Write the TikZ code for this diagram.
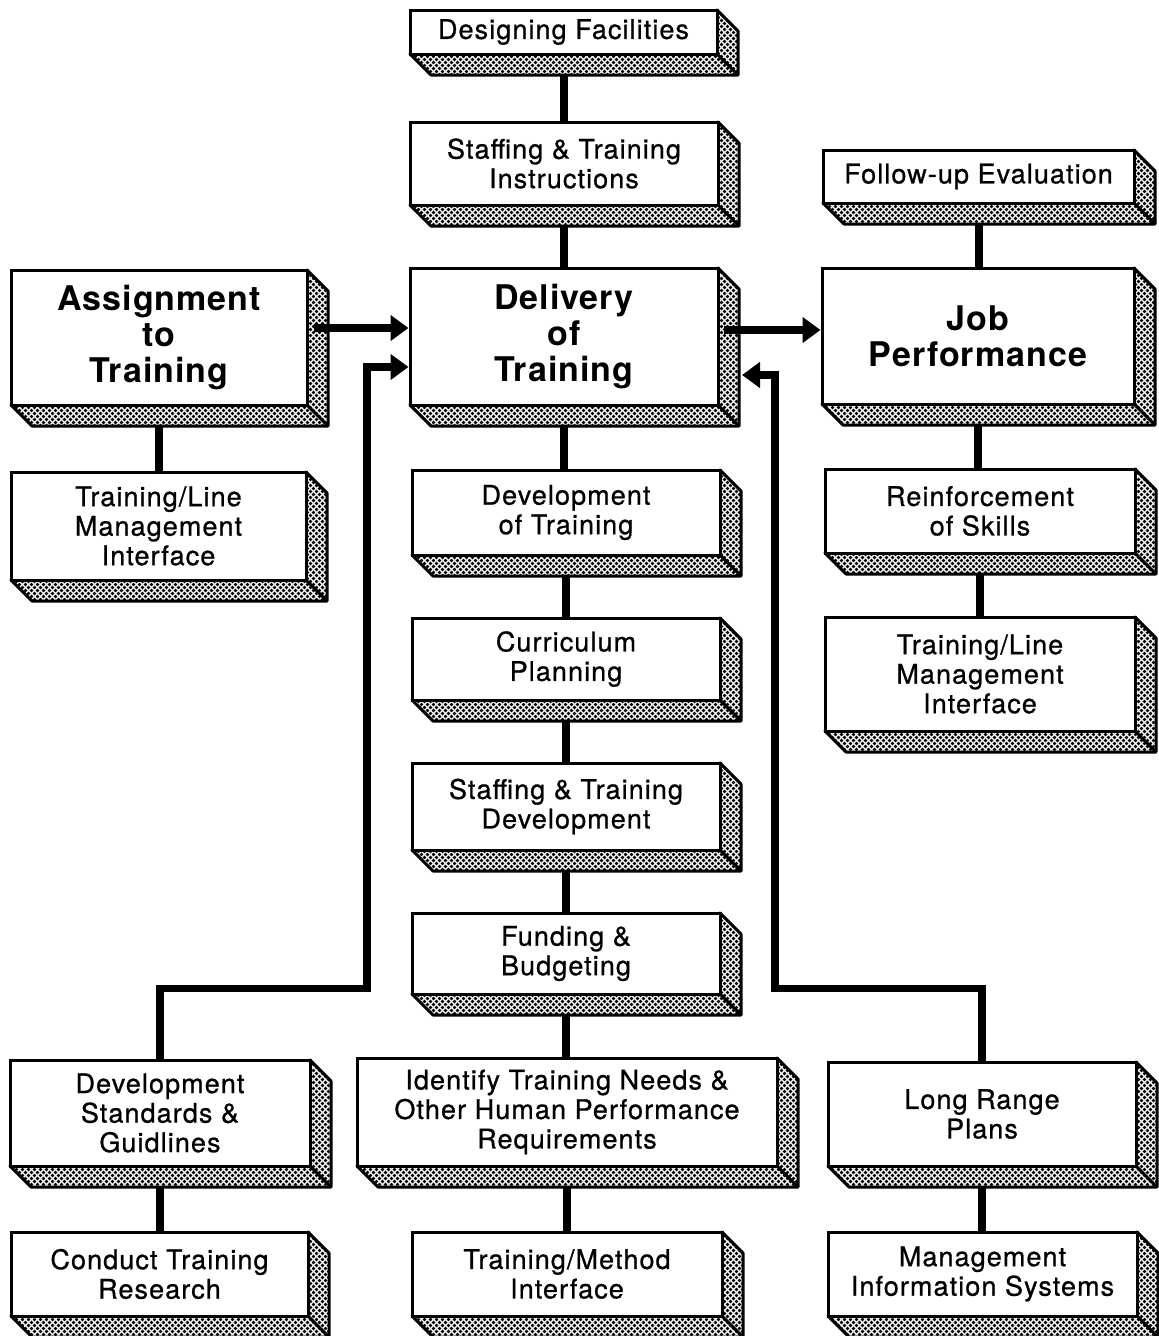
\documentclass[tikz,border=0pt]{standalone}
\usepackage{fontspec}
\setmainfont{TeX Gyre Heros}
\newfontfamily\boxfont[LetterSpace=4,FakeBold=0.8]{TeX Gyre Heros}
\newfontfamily\bigboxfont[LetterSpace=3]{TeX Gyre Heros}
\usetikzlibrary{arrows.meta,patterns}
\pgfdeclarelayer{bg}
\pgfsetlayers{bg,main}
% dotted screen used on the side faces of the slabs
\pgfdeclarepatternformonly{dotnet}{\pgfqpoint{-1pt}{-1pt}}{\pgfqpoint{7pt}{7pt}}{\pgfqpoint{6pt}{6pt}}{%
  \pgfpathcircle{\pgfqpoint{1.5pt}{1.5pt}}{1.8pt}%
  \pgfpathcircle{\pgfqpoint{4.5pt}{4.5pt}}{1.8pt}%
  \pgfusepath{fill}}
\tikzset{
  front/.style={draw, line width=3pt, fill=white, align=center, inner sep=0pt},
  small/.style={font=\boxfont\fontsize{27}{29.5}\selectfont},
  big/.style={font=\bigboxfont\bfseries\fontsize{34}{36}\selectfont},
  sides/.style={preaction={fill=white}, pattern=dotnet, draw, line width=3pt, line join=round},
  link/.style={line width=8pt},
  flow/.style={line width=7.5pt, line join=miter, -{Triangle[length=18pt,width=25pt]}},
}
% #1 name, #2 x1, #3 y1, #4 x2, #5 y2 (front face), #6 text style, #7 text
\newcommand\slabbox[7]{%
  \path[sides] (#4,#3) -- (#4+21,#3+21) -- (#4+21,#5+21) -- (#2+21,#5+21)
     -- (#2,#5) -- (#4,#5) -- cycle;
  \draw[line width=3pt] (#4,#5) -- (#4+21,#5+21);
  \node[front,#6,minimum width={(#4-#2)*1pt},minimum height={(#5-#3)*1pt}]
     (#1) at ({(#2+#4)/2},{(#3+#5)/2}) {#7};
}
\begin{document}
\begin{tikzpicture}[x=1pt,y=-1pt]
\useasboundingbox (0,0) rectangle (1159,1336);

% centre column
\slabbox{DF}{410}{10}{717}{54}{small}{Designing Facilities}
\slabbox{STI}{410}{122}{718}{205}{small}{Staffing \& Training\\Instructions}
\slabbox{DT}{410}{268}{718}{405}{big}{Delivery\\of\\Training}
\slabbox{DVT}{412}{470}{720}{555}{small}{Development\\of Training}
\slabbox{CP}{412}{618}{720}{700}{small}{Curriculum\\Planning}
\slabbox{STD}{412}{763}{720}{850}{small}{Staffing \& Training\\Development}
\slabbox{FB}{412}{913}{720}{994}{small}{Funding \&\\Budgeting}
\slabbox{ITN}{357}{1058}{777}{1166}{small}{Identify Training Needs \&\\Other Human Performance\\Requirements}
\slabbox{TMI}{412}{1232}{722}{1316}{small}{Training/Method\\Interface}

% left column
\slabbox{AT}{11}{270}{307}{405}{big}{Assignment\\to\\Training}
\slabbox{TL1}{11}{472}{306}{580}{small}{Training/Line\\Management\\Interface}
\slabbox{DSG}{10}{1060}{310}{1166}{small}{Development\\Standards \&\\Guidlines}
\slabbox{CTR}{11}{1232}{308}{1316}{small}{Conduct Training\\Research}

% right column
\slabbox{FE}{823}{150}{1134}{203}{small}{Follow-up Evaluation}
\slabbox{JP}{822}{268}{1134}{404}{big}{Job\\Performance}
\slabbox{RS}{825}{469}{1135}{553}{small}{Reinforcement\\of Skills}
\slabbox{TL2}{825}{617}{1135}{731}{small}{Training/Line\\Management\\Interface}
\slabbox{LRP}{828}{1062}{1136}{1166}{small}{Long Range\\Plans}
\slabbox{MIS}{828}{1232}{1137}{1316}{small}{Management\\Information Systems}

% plain links behind the slabs
\begin{pgfonlayer}{bg}
  \foreach \a/\b in {DF/STI, STI/DT, DT/DVT, DVT/CP, CP/STD, STD/FB, FB/ITN, ITN/TMI,
                     AT/TL1, DSG/CTR, FE/JP, JP/RS, RS/TL2, LRP/MIS}
    \draw[link] (\a.center) -- (\a.center |- \b.center);
\end{pgfonlayer}

% main flow
\coordinate (aIn) at (314,328);
\draw[flow] (aIn) -- (aIn -| DT.west);
\coordinate (bIn) at (724,330);
\draw[flow] (bIn) -- (bIn -| JP.west);

% feedback into delivery
\coordinate (lTurn) at (367,367);
\draw[flow] (DSG.north) -- ++(0,-70) -| (lTurn) -- (lTurn -| DT.west);
\coordinate (rTurn) at (775,375);
\coordinate (rTip) at (742,375);
\draw[flow] (LRP.north) -- ++(0,-72) -| (rTurn) -- (rTip);
\end{tikzpicture}
\end{document}
